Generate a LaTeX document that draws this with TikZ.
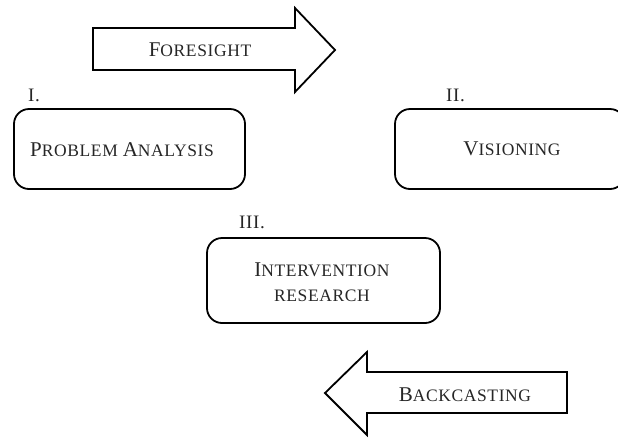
\documentclass[tikz,border=0pt]{standalone}
\usepackage{fontspec}
\setmainfont{Liberation Serif}[LetterSpace=3.5]
% small capitals built from two sizes of the same face
\newcommand{\capL}[1]{{\fontsize{21}{25}\selectfont #1}}
\newcommand{\capS}[1]{{\fontsize{17.5}{25}\selectfont #1}}
\begin{document}
\begin{tikzpicture}[x=1pt,y=-1pt,
  frame/.style={draw=black,line width=1.8pt,line join=miter},
  stagebox/.style={frame,rounded corners=15pt},
  caption/.style={text=black!85,font=\fontsize{17.5}{25}\selectfont,inner sep=0pt,align=center},
  numeral/.style={text=black!85,font=\fontsize{19}{22}\selectfont,inner sep=0pt,anchor=base west}]
\useasboundingbox (0,0) rectangle (618,437);
\begin{scope}
\clip (0,0) rectangle (618,437);

% forward arrow
\draw[frame] (93,28) -- (295,28) -- (295,8) -- (335,50) -- (295,92) -- (295,70) -- (93,70) -- cycle;
\node[caption] (fore) at (200,50) {\capL{F}\capS{ORESIGHT}};

% stage boxes
\draw[stagebox] (14,109) rectangle (245,189);
\node[caption] (pa) at (122,150) {\capL{P}\capS{ROBLEM} \capL{A}\capS{NALYSIS}};
\node[numeral] (n1) at (28,101) {I.};

\draw[stagebox] (395,109) rectangle (625,189);
\node[caption] (vis) at (512,149) {\capL{V}\capS{ISIONING}};
\node[numeral] (n2) at (446,101) {II.};

\draw[stagebox] (207,238) rectangle (440,323);
\node[caption] (ir) at (322,282) {\capL{I}\capS{NTERVENTION}\\\capS{RESEARCH}};
\node[numeral] (n3) at (239,228) {III.};

% backward arrow
\draw[frame] (567,372) -- (367,372) -- (367,352) -- (325,393) -- (367,435) -- (367,413) -- (567,413) -- cycle;
\node[caption] (back) at (465,395) {\capL{B}\capS{ACKCASTING}};
\end{scope}
\end{tikzpicture}
\end{document}
